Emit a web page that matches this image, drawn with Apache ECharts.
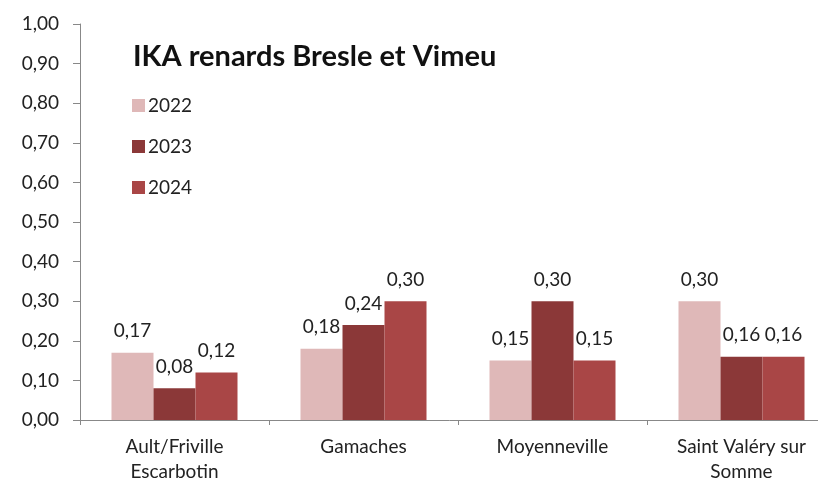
<!DOCTYPE html>
<html>
<head>
	<meta charset="utf-8">
	<script src="https://cdn.jsdelivr.net/npm/echarts@6/dist/echarts.min.js"></script>
	<style>body{margin:0;background:#fff}</style>
</head>
<body>
	<div id="main" style="width: 818px; height: 483px"></div>
	<script type="text/javascript">
		// données
		var communes = ['Ault/Friville\nEscarbotin', 'Gamaches', 'Moyenneville', 'Saint Valéry sur\nSomme'];
		var annees = ['2022', '2023', '2024'];
		var ika2022 = [0.17, 0.18, 0.15, 0.30];
		var ika2023 = [0.08, 0.24, 0.30, 0.16];
		var ika2024 = [0.12, 0.30, 0.15, 0.16];
		var couleurs = ['#dfb8b8', '#8b3838', '#a94646'];

		var fmt = function (v) { return Number(v).toFixed(2).replace('.', ','); };
		var police = 'Lato, "Open Sans", sans-serif';

		function serie(nom, valeurs, couleur) {
			return {
				name: nom, type: 'bar', data: valeurs,
				barWidth: 42, barGap: '0%',
				itemStyle: { color: couleur },
				label: {
					show: true, position: 'top', distance: 12,
					formatter: function (p) { return fmt(p.value); },
					color: '#222', fontSize: 19, fontFamily: police
				}
			};
		}

		var myChart = echarts.init(document.getElementById('main'));
		var option = {
			animation: false,
			backgroundColor: '#fff',
			title: {
				text: 'IKA renards Bresle et Vimeu',
				left: 128, top: 37,
				textStyle: { fontSize: 29, fontWeight: 'bold', color: '#111', fontFamily: police }
			},
			legend: {
				orient: 'vertical', left: 127, top: 91,
				itemWidth: 13, itemHeight: 13, itemGap: 22,
				icon: 'rect',
				textStyle: { fontSize: 19, color: '#222', fontFamily: police, padding: [0, 0, 0, -2] },
				data: annees
			},
			grid: { left: 80, top: 24, right: -18, bottom: 63, outerBoundsMode: 'none', containLabel: false },
			xAxis: {
				type: 'category', data: communes,
				axisLine: { lineStyle: { color: '#888' } },
				axisTick: { show: true, length: 5, lineStyle: { color: '#888' } },
				axisLabel: { color: '#222', fontSize: 19, fontFamily: police, margin: 14, lineHeight: 25, interval: 0 }
			},
			yAxis: {
				type: 'value', min: 0, max: 1, interval: 0.1,
				axisLine: { show: true, lineStyle: { color: '#888' } },
				axisTick: { show: true, length: 7, lineStyle: { color: '#888' } },
				splitLine: { show: false },
				axisLabel: { color: '#222', fontSize: 19, fontFamily: police, margin: 21, formatter: fmt }
			},
			series: [
				serie(annees[0], ika2022, couleurs[0]),
				serie(annees[1], ika2023, couleurs[1]),
				serie(annees[2], ika2024, couleurs[2])
			]
		};
		myChart.setOption(option);
	</script>
</body>
</html>
